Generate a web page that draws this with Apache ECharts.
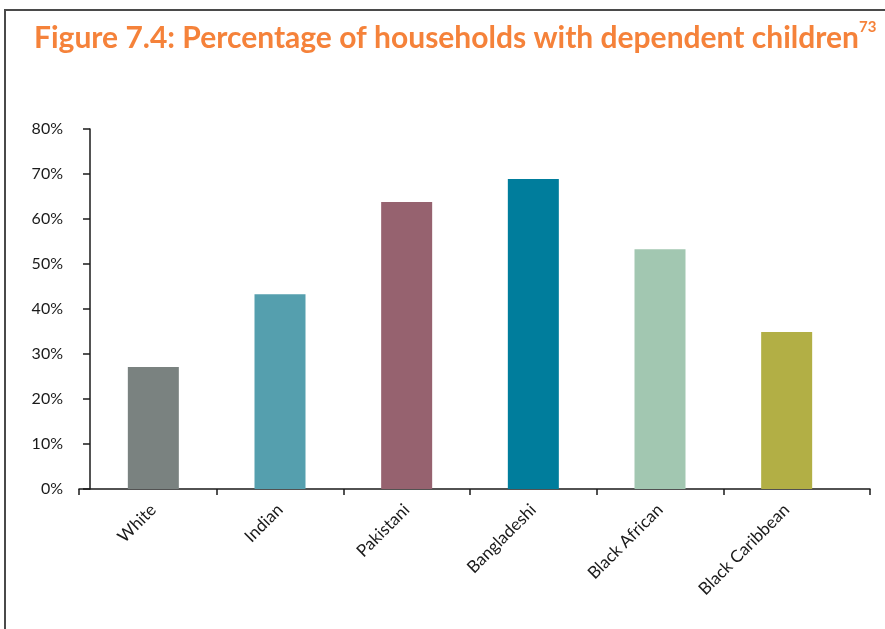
<!DOCTYPE html>
<html><head><meta charset="utf-8">
<script src="https://cdn.jsdelivr.net/npm/echarts@6/dist/echarts.min.js"></script>
<style>
html,body{margin:0;padding:0;background:#fff;overflow:hidden;}
#c{position:absolute;left:0;top:0;width:885px;height:629px;}
#frame{position:absolute;left:4px;top:9px;width:900px;height:700px;border-top:2px solid #4a4a4a;border-left:2px solid #4a4a4a;pointer-events:none;}
</style></head><body>
<div id="c"></div><div id="frame"></div>
<script>
const titleText = 'Figure 7.4: Percentage of households with dependent children';
const titleNote = '73';
const categories = ['White', 'Indian', 'Pakistani', 'Bangladeshi', 'Black African', 'Black Caribbean'];
const values = [0.271, 0.433, 0.638, 0.689, 0.533, 0.349];
const barColors = ['#7a8280', '#559fae', '#96626f', '#007d9c', '#a2c7b1', '#b2af45'];
const yMin = 0, yMax = 0.8, yStep = 0.1;

const FONT = 'Lato';
const chart = echarts.init(document.getElementById('c'), null, {renderer: 'canvas'});
// visible x-axis line runs a little past the category band on both sides
const bandLeft = 90, bandRight = 850, lineLeft = 79, lineRight = 870;
const unit = (bandRight - bandLeft) / categories.length;
const vMin = -(bandLeft - lineLeft) / unit;
const vMax = categories.length + (lineRight - bandRight) / unit;
const tickVals = [vMin];
for (let i = 1; i < categories.length; i++) tickVals.push(i);
tickVals.push(vMax);

chart.setOption({
  animation: false,
  backgroundColor: '#fff',
  title: {
    left: 29, top: 15,
    text: '{a|' + titleText + '}{s|' + titleNote + '}',
    textStyle: {
      rich: {
        a: {fontFamily: FONT, fontWeight: 'bold', fontSize: 30, color: '#f5823a', lineHeight: 36},
        s: {fontFamily: FONT, fontWeight: 'bold', fontSize: 15, color: '#f5823a', verticalAlign: 'top', lineHeight: 36, padding: [0, 0, 10, 0]}
      }
    }
  },
  grid: [
    {left: bandLeft, right: 885 - bandRight, top: 129, bottom: 140},
    {left: lineLeft, right: 885 - lineRight, top: 129, bottom: 140}
  ],
  xAxis: [
    {
      type: 'category', gridIndex: 0, data: categories,
      axisLine: {show: false}, axisTick: {show: false},
      axisLabel: {rotate: 45, margin: 18, fontFamily: FONT, fontSize: 17, color: '#1a1a1a', interval: 0}
    },
    {
      type: 'value', gridIndex: 1, min: vMin, max: vMax,
      axisLine: {show: true, lineStyle: {color: '#1a1a1a', width: 1.5}},
      axisTick: {show: true, length: 6, customValues: tickVals, lineStyle: {color: '#1a1a1a', width: 1.5}},
      axisLabel: {show: false}, splitLine: {show: false}
    }
  ],
  yAxis: [
    {type: 'value', gridIndex: 0, min: yMin, max: yMax, interval: yStep, show: false, splitLine: {show: false}},
    {
      type: 'value', gridIndex: 1, min: yMin, max: yMax, interval: yStep,
      axisLine: {show: true, lineStyle: {color: '#1a1a1a', width: 1.5}},
      axisTick: {show: true, length: 7, lineStyle: {color: '#1a1a1a', width: 1.5}},
      splitLine: {show: false},
      axisLabel: {margin: 16, fontFamily: FONT, fontSize: 16, color: '#1a1a1a',
        formatter: v => Math.round(v * 100) + '%'}
    }
  ],
  series: [{
    type: 'bar', xAxisIndex: 0, yAxisIndex: 0, barWidth: 51,
    data: values.map((v, i) => ({value: v, itemStyle: {color: barColors[i]}}))
  }]
});
</script></body></html>
